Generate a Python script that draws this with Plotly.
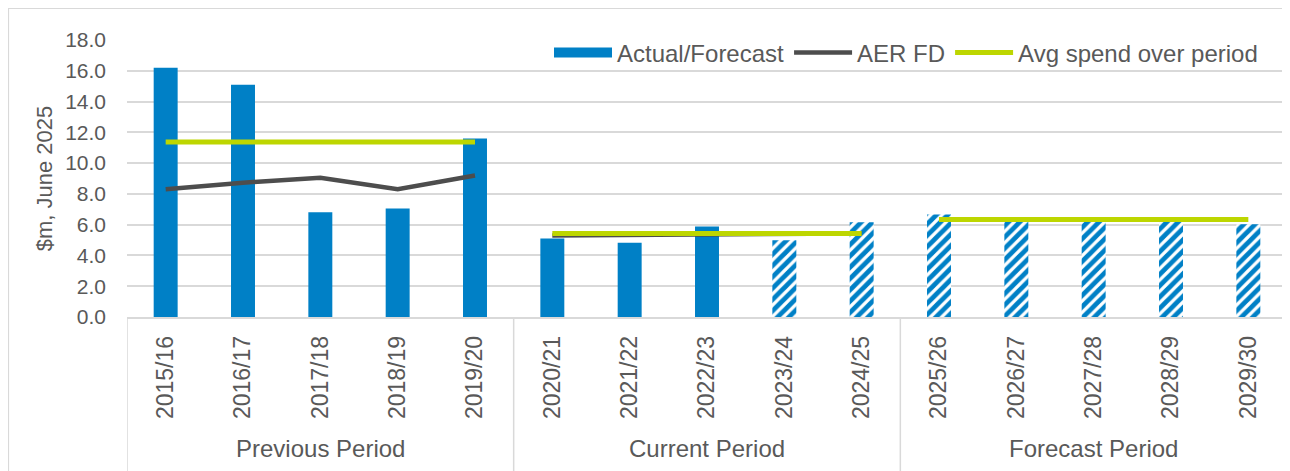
import plotly.graph_objects as go

categories = ["2015/16", "2016/17", "2017/18", "2018/19", "2019/20",
              "2020/21", "2021/22", "2022/23", "2023/24", "2024/25",
              "2025/26", "2026/27", "2027/28", "2028/29", "2029/30"]
periods = ["Previous Period", "Current Period", "Forecast Period"]
period_members = [categories[0:5], categories[5:10], categories[10:15]]

actual_forecast = [16.2, 15.1, 6.8, 7.05, 11.6,
                   5.1, 4.82, 5.88, 4.98, 6.15,
                   6.66, 6.25, 6.2, 6.25, 6.03]
is_forecast = [False, False, False, False, False,
               False, False, False, True, True,
               True, True, True, True, True]

aer_fd_prev = [8.3, 8.73, 9.05, 8.3, 9.2]
aer_fd_curr = [5.3, 5.33, 5.37, 5.4, 5.43]

avg_spend = [11.37, 5.42, 6.33]

y_ticks = [0, 2, 4, 6, 8, 10, 12, 14, 16, 18]

BLUE = "#0080C6"
DARK = "#4D4D4D"
GREEN = "#BDD600"
GRID = "#D9D9D9"
TXT = "#595959"
FONT = "Liberation Sans, Arial, sans-serif"

# the page body has an 8px margin, so the figure starts at (8, 8) on screen
W, H = 1282, 463
ML, MR, MT, MB = 119, 3, 32, 154
PW = W - ML - MR
PH = H - MT - MB

fig = go.Figure()

fig.add_trace(go.Bar(
    x=categories, y=actual_forecast, name="Actual/Forecast",
    width=0.31, showlegend=False, legendgroup="bars",
    marker=dict(color=BLUE, line=dict(width=0),
                pattern=dict(shape=["/" if f else "" for f in is_forecast],
                             fgcolor=BLUE, fgopacity=1, bgcolor="white",
                             size=8, solidity=0.6)),
    hoverinfo="x+y",
))
# legend key for the bar series (wide rectangle as in the reference)
fig.add_trace(go.Scatter(
    x=[None], y=[None], mode="lines", name="Actual/Forecast", legendgroup="bars",
    line=dict(color=BLUE, width=12), hoverinfo="skip",
))

for i, vals in enumerate([aer_fd_prev, aer_fd_curr]):
    fig.add_trace(go.Scatter(
        x=period_members[i], y=vals, mode="lines", name="AER FD",
        line=dict(color=DARK, width=4.5), legendgroup="aer", showlegend=(i == 0),
    ))

for i, v in enumerate(avg_spend):
    fig.add_trace(go.Scatter(
        x=period_members[i], y=[v] * len(period_members[i]), mode="lines",
        name="Avg spend over period",
        line=dict(color=GREEN, width=5), legendgroup="avg", showlegend=(i == 0),
    ))

def py2paper(py):
    return (H - MB - py) / PH

def px2paper(px):
    return (px - ML) / PW

shapes = []
for xb in [-0.5, 4.5, 9.5, 14.5]:
    shapes.append(dict(type="line", xref="x", yref="paper", x0=xb, x1=xb,
                       y0=0, y1=py2paper(H + 5), line=dict(color=GRID, width=1.5)))
# outer chart frame
shapes.append(dict(type="rect", xref="paper", yref="paper",
                   x0=px2paper(0.5), x1=px2paper(W + 10),
                   y0=py2paper(H + 10), y1=py2paper(0.5),
                   line=dict(color=GRID, width=1.2), fillcolor="rgba(0,0,0,0)", layer="below"))

annotations = []
for i, p in enumerate(periods):
    annotations.append(dict(text=p, xref="x", yref="paper", x=period_members[i][2],
                            y=py2paper(440), showarrow=False, xanchor="center", yanchor="middle",
                            font=dict(family=FONT, size=24, color=TXT)))

fig.update_layout(
    width=W, height=H,
    margin=dict(l=ML, r=MR, t=MT, b=MB, autoexpand=False),
    paper_bgcolor="white", plot_bgcolor="white",
    font=dict(family=FONT, color=TXT),
    showlegend=True,
    legend=dict(orientation="h", x=px2paper(1255), xanchor="right",
                y=py2paper(45), yanchor="middle",
                font=dict(family=FONT, size=24, color=TXT),
                bgcolor="rgba(0,0,0,0)", itemwidth=58, traceorder="normal",
                tracegroupgap=0),
    shapes=shapes,
    annotations=annotations,
)

fig.update_xaxes(type="category", categoryorder="array", categoryarray=categories,
                 tickangle=-90, tickfont=dict(family=FONT, size=23, color=TXT),
                 showgrid=False, showline=True, linecolor=GRID, linewidth=1.5,
                 ticks="", ticklabelstandoff=8, range=[-0.5, 14.5], fixedrange=True,
                 automargin=False)

fig.update_yaxes(range=[0, 18], tickvals=y_ticks, ticktext=[f"{v:.1f}" for v in y_ticks],
                 tickfont=dict(family=FONT, size=21, color=TXT),
                 showgrid=True, gridcolor=GRID, gridwidth=1.5, zeroline=False,
                 showline=False, ticks="", ticklabelstandoff=20, automargin=False,
                 title=dict(text="$m, June 2025", font=dict(family=FONT, size=22, color=TXT),
                            standoff=6))

fig.write_html("out.html")
